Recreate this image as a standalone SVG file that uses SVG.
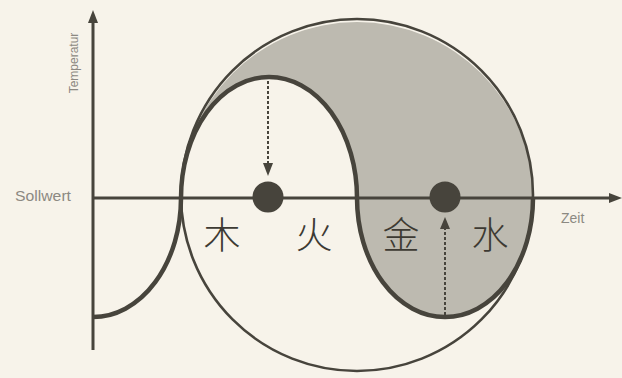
<svg xmlns="http://www.w3.org/2000/svg" width="622" height="378" viewBox="0 0 622 378">
<style>
.ink{stroke:#47443c;fill:none}
.lbl{font-family:"Liberation Sans",Arial,sans-serif;fill:#8c8982}
.cjk{font-family:"Noto Sans CJK SC","Noto Sans CJK JP",sans-serif;font-weight:300;fill:#3d3a33;font-size:37px;text-anchor:middle}
.dash{stroke:#47443c;stroke-width:2;stroke-dasharray:3,2;fill:none}
.head{fill:#47443c}
</style>
<rect width="622" height="378" fill="#f7f3ea"/>
<g id="shade">
<path d="M181,198 A176,176 0 0 1 533,198 A88,119 0 0 1 357,198 A88,121 0 0 0 181,198 Z" fill="#bdbab0"/>
</g>
<g id="circle">
<circle cx="357" cy="195" r="176" class="ink" stroke-width="2.6"/>
</g>
<g id="axes">
<line x1="93" y1="20" x2="93" y2="350" class="ink" stroke-width="3"/>
<polygon points="93,10 88,23 98,23" class="head"/>
<line x1="93" y1="198" x2="612" y2="198" class="ink" stroke-width="3"/>
<polygon points="622,198 609,193 609,203" class="head"/>
</g>
<g id="wave">
<path d="M93,317 A88,119 0 0 0 181,198 A88,121 0 0 1 357,198 A88,119 0 0 0 533,198" class="ink" stroke-width="4.5"/>
</g>
<g id="dots">
<circle cx="268" cy="197" r="15.5" fill="#47443c"/>
<circle cx="445" cy="197" r="15.5" fill="#47443c"/>
</g>
<g id="connectors">
<line x1="268" y1="81" x2="268" y2="164" class="dash"/>
<polygon points="263,163 273,163 268,176" class="head"/>
<line x1="445" y1="315" x2="445" y2="228" class="dash"/>
<polygon points="440,229 450,229 445,217" class="head"/>
</g>
<g id="labels">
<text x="15" y="201" class="lbl" font-size="14" textLength="56" lengthAdjust="spacingAndGlyphs">Sollwert</text>
<text x="561" y="223" class="lbl" font-size="14">Zeit</text>
<text transform="translate(78,63) rotate(-90)" class="lbl" font-size="12" text-anchor="middle">Temperatur</text>
</g>
<g id="elements">
<text x="222" y="249" class="cjk">木</text>
<text x="314" y="249" class="cjk">火</text>
<text x="401" y="249" class="cjk">金</text>
<text x="490" y="249" class="cjk">水</text>
</g>
</svg>
